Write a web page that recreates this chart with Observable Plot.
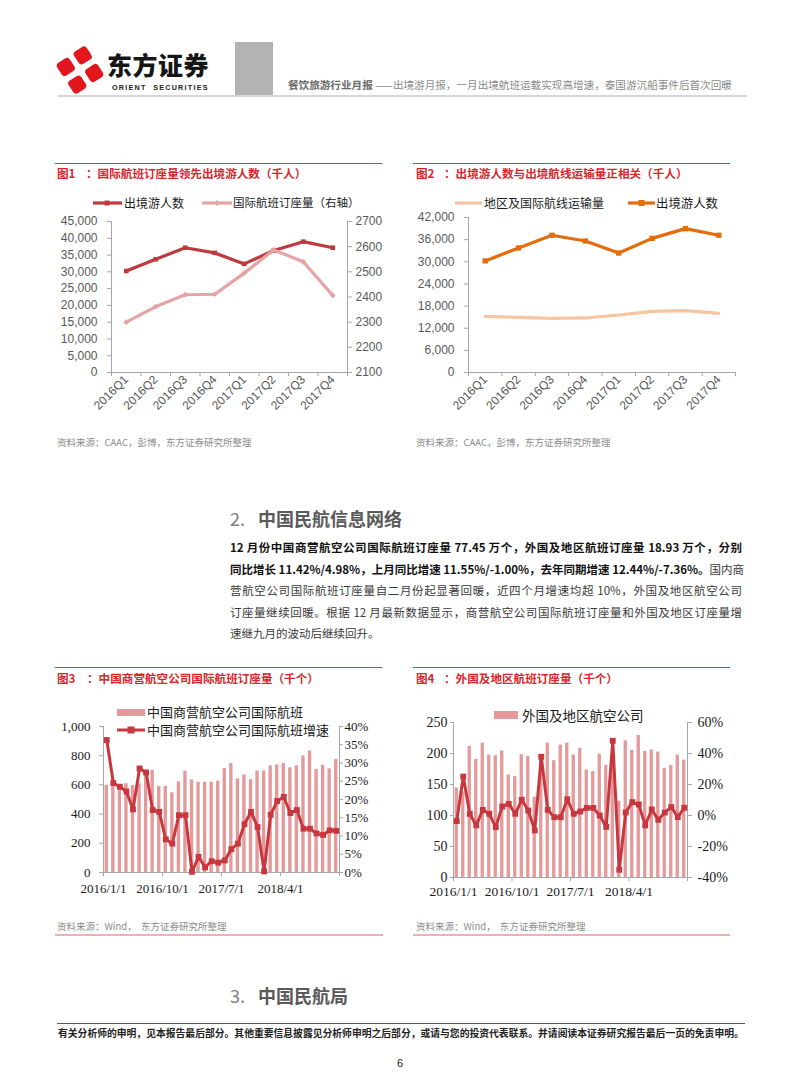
<!DOCTYPE html>
<html><head><meta charset="utf-8">
<script src="https://cdn.jsdelivr.net/npm/d3@7"></script>
<script src="https://cdn.jsdelivr.net/npm/@observablehq/plot@0.6"></script>
<style>
body{margin:0;background:#fff;width:802px;height:1087px;position:relative;overflow:hidden;font-family:"Noto Sans CJK SC","Noto Sans",sans-serif;}
.abs{position:absolute;white-space:nowrap;line-height:1;}
.title{font-size:11.6px;font-weight:700;color:#d9262c;}
.src{font-size:9.5px;color:#8c8c8c;}
.hl{position:absolute;}
.leg{font-size:12px;color:#1a1a1a;}
.leg2{font-size:13px;color:#1a1a1a;}
.para{position:absolute;left:230px;width:512px;font-size:11.5px;line-height:1;white-space:nowrap;color:#3a3a3a;text-align:justify;text-align-last:justify;}
.para b{color:#111;}
</style></head><body>
<script>
// ---------- DATA ----------
const quarters = ["2016Q1","2016Q2","2016Q3","2016Q4","2017Q1","2017Q2","2017Q3","2017Q4"];
const outboundTourists = [30240, 33750, 37190, 35640, 32370, 36350, 38990, 37190];
const intlSeats = [2300, 2362, 2409, 2411, 2495, 2587, 2540, 2406];
const routeTraffic = [15225, 14955, 14685, 14775, 15586, 16577, 16757, 16036];
const c1LeftTicks = [0,5000,10000,15000,20000,25000,30000,35000,40000,45000];
const c1RightTicks = [2100,2200,2300,2400,2500,2600,2700];
const c2Ticks = [0,6000,12000,18000,24000,30000,36000,42000];

const months = ["2016/1","2016/2","2016/3","2016/4","2016/5","2016/6","2016/7","2016/8","2016/9","2016/10","2016/11","2016/12",
 "2017/1","2017/2","2017/3","2017/4","2017/5","2017/6","2017/7","2017/8","2017/9","2017/10","2017/11","2017/12",
 "2018/1","2018/2","2018/3","2018/4","2018/5","2018/6","2018/7","2018/8","2018/9","2018/10","2018/11","2018/12"];
const domesticSeats = [598, 634, 600, 608, 596, 608, 700, 700, 590, 590, 546, 620,
 694, 634, 618, 618, 618, 626, 712, 747, 641, 668, 636, 695,
 695, 731, 737, 747, 717, 731, 798, 832, 705, 735, 710, 774.5];
const domesticGrowth = [36.3, 24.5, 23.5, 22.2, 17.3, 28.5, 27.4, 17.1, 16.6, 9.1, 7.9, 15.7,
 15.7, 0.2, 4.3, 1.4, 3.1, 2.7, 3.3, 6.4, 7.9, 13.2, 16.6, 12.44,
 0.3, 15.8, 19.6, 20.7, 16.3, 17.1, 12.0, 12.0, 10.7, 10.3, 11.55, 11.42];
const foreignSeats = [144.5, 138, 211.4, 190.6, 216.8, 197.5, 196.5, 204, 165.4, 162.7, 198, 195.4,
 129.5, 190, 216.8, 188.4, 213.6, 216.8, 197.5, 208.2, 173.4, 170.8, 199.1, 181,
 191.7, 123, 220.5, 205, 229, 203.4, 205.6, 202.3, 176.1, 180.4, 197.5, 189.3];
const foreignGrowth = [-3.6, 25.1, 1.1, -6.4, 3.6, 1.1, -7.5, 5.8, 7.5, 1.1, 10.1, 3.2,
 -9.6, 37.9, 3.6, -1.1, -1.1, 10.5, 1.1, 2.6, 4.9, 4.9, 0.0, -7.36,
 48.2, -35.0, 1.9, 8.6, 7.1, -6.4, 3.9, -2.8, 1.9, 5.4, -1.0, 4.98];
const monthTickIdx = [0, 9, 18, 27, 36];
const monthTickLabels = ["2016/1/1","2016/10/1","2017/7/1","2018/4/1",""];
const c3LeftTicks = [0,200,400,600,800,1000];
const c3RightTicks = [0,5,10,15,20,25,30,35,40];
const c4LeftTicks = [0,50,100,150,200,250];
const c4RightTicks = [-40,-20,0,20,40,60];
</script>

<!-- header -->
<svg class="hl" style="left:55px;top:45px" width="50" height="50" viewBox="0 0 50 50">
 <g transform="translate(25,25) rotate(12)" fill="#e3161d">
  <rect x="-8" y="-22" width="15" height="15" rx="3.5" transform="rotate(45 0 -14.5)"/>
  <rect x="7" y="-7.5" width="15" height="15" rx="3.5" transform="rotate(45 14.5 0)"/>
  <rect x="-7" y="7" width="15" height="15" rx="3.5" transform="rotate(45 0 14.5)"/>
  <rect x="-22" y="-7.5" width="15" height="15" rx="3.5" transform="rotate(45 -14.5 0)"/>
 </g>
</svg>
<div class="abs" style="left:107px;top:52px;font-size:25px;font-weight:900;color:#161616;letter-spacing:0.5px">东方证券</div>
<div class="abs" style="left:112px;top:84px;font-family:'Liberation Sans',Arial,sans-serif;font-size:7.2px;font-weight:700;color:#222;letter-spacing:1.25px">ORIENT&nbsp;&nbsp;SECURITIES</div>
<div class="hl" style="left:235px;top:42px;width:38px;height:53px;background:#b3b3b3"></div>
<div class="hl" style="left:58px;top:95px;width:689px;height:2px;background:#d6d6d6"></div>
<div class="abs" style="left:288px;top:80px;font-size:10.6px;color:#8a8a8a"><span style="color:#6a6a6a;font-weight:700">餐饮旅游行业月报</span> ——出境游月报，一月出境航班运载实现高增速，泰国游沉船事件后首次回暖</div>

<!-- chart titles -->
<div class="hl" style="left:55px;top:163px;width:327px;height:1px;background:#d9383f"></div>
<div class="hl" style="left:413px;top:163px;width:317px;height:1px;background:#d9383f"></div>
<div class="abs title" style="left:57px;top:168px"><span style="display:inline-block;width:29px">图1</span>：国际航班订座量领先出境游人数（千人）</div>
<div class="abs title" style="left:416px;top:168px"><span style="display:inline-block;width:28px">图2</span>：出境游人数与出境航线运输量正相关（千人）</div>

<!-- chart 1 legend -->
<svg class="hl" style="left:92px;top:197px" width="32" height="12"><line x1="1" y1="6" x2="30" y2="6" stroke="#c0393c" stroke-width="3.2"/><rect x="12.5" y="3.5" width="5" height="5" fill="#c0393c"/></svg>
<div class="abs leg" style="left:124px;top:197px">出境游人数</div>
<svg class="hl" style="left:201px;top:197px" width="32" height="12"><line x1="1" y1="6" x2="31" y2="6" stroke="#e6a3a3" stroke-width="3.2"/><path d="M16 3 L19 6 L16 9 L13 6Z" fill="#e6a3a3"/></svg>
<div class="abs leg" style="left:233px;top:197px;font-size:11.5px">国际航班订座量（右轴）</div>

<!-- chart 2 legend -->
<svg class="hl" style="left:454px;top:197px" width="30" height="12"><line x1="1" y1="6" x2="28" y2="6" stroke="#f7c6a0" stroke-width="3.2"/></svg>
<div class="abs leg" style="left:484px;top:197px">地区及国际航线运输量</div>
<svg class="hl" style="left:627px;top:197px" width="30" height="12"><line x1="1" y1="6" x2="28" y2="6" stroke="#e46c0a" stroke-width="3.2"/><rect x="11.5" y="3" width="6" height="6" fill="#e46c0a"/></svg>
<div class="abs leg" style="left:656px;top:197px;font-size:12.4px">出境游人数</div>

<div class="abs src" style="left:57px;top:438px">资料来源：CAAC，彭博，东方证券研究所整理</div>
<div class="abs src" style="left:416px;top:438px">资料来源：CAAC，彭博，东方证券研究所整理</div>

<!-- section 2 -->
<div class="abs" style="left:230px;top:509px;font-size:18px;color:#5a5a5a"><span style="display:inline-block;width:28px;color:#808080">2.</span><b>中国民航信息网络</b></div>
<div class="para" style="top:542px"><b>12 月份中国商营航空公司国际航班订座量 77.45 万个，外国及地区航班订座量 18.93 万个，分别</b></div>
<div class="para" style="top:564px"><b>同比增长 11.42%/4.98%，上月同比增速 11.55%/-1.00%，去年同期增速 12.44%/-7.36%。</b>国内商</div>
<div class="para" style="top:585px">营航空公司国际航班订座量自二月份起显著回暖，近四个月增速均超 10%，外国及地区航空公司</div>
<div class="para" style="top:607px">订座量继续回暖。根据 12 月最新数据显示，商营航空公司国际航班订座量和外国及地区订座量增</div>
<div class="para" style="top:628px;text-align:left;text-align-last:left">速继九月的波动后继续回升。</div>

<!-- chart 3/4 titles -->
<div class="hl" style="left:55px;top:667px;width:327px;height:1px;background:#d9383f"></div>
<div class="hl" style="left:413px;top:667px;width:317px;height:1px;background:#d9383f"></div>
<div class="abs title" style="left:57px;top:673px"><span style="display:inline-block;width:30px">图3</span>：中国商营航空公司国际航班订座量（千个）</div>
<div class="abs title" style="left:416px;top:673px"><span style="display:inline-block;width:28px">图4</span>：外国及地区航班订座量（千个）</div>

<div class="abs src" style="left:57px;top:922px">资料来源：Wind，&nbsp;&nbsp;东方证券研究所整理</div>
<div class="abs src" style="left:416px;top:922px">资料来源：Wind，&nbsp;&nbsp;东方证券研究所整理</div>
<div class="hl" style="left:55px;top:934px;width:328px;height:1.5px;background:#e9b3b3"></div>
<div class="hl" style="left:413px;top:934px;width:317px;height:1.5px;background:#e9b3b3"></div>

<!-- section 3 -->
<div class="abs" style="left:230px;top:986px;font-size:18px;color:#5a5a5a"><span style="display:inline-block;width:28px;color:#808080">3.</span><b>中国民航局</b></div>

<!-- footer -->
<div class="hl" style="left:57px;top:1023px;width:688px;height:1px;background:#555"></div>
<div class="abs" style="left:58px;top:1029px;font-size:9.8px;font-weight:700;color:#222">有关分析师的申明，见本报告最后部分。其他重要信息披露见分析师申明之后部分，或请与您的投资代表联系。并请阅读本证券研究报告最后一页的免责申明。</div>
<div class="abs" style="left:397px;top:1058px;font-size:11px;color:#222;font-family:'Liberation Sans',Arial,sans-serif">6</div>

<script>
function place(svg, left, top) {
  svg.style.position = "absolute";
  svg.style.left = left + "px";
  svg.style.top = top + "px";
  svg.style.maxWidth = "none";
  document.body.appendChild(svg);
}
const axisGrey = "#a6a6a6";

// ---------- Chart 1 ----------
const c1 = quarters.map((q, i) => ({i, q, out: outboundTourists[i], seat: intlSeats[i]}));
const c1r = d3.scaleLinear([2100, 2700], [0, 45000]);
const sansStyle = {fontFamily: "'Liberation Sans', Arial, sans-serif", fontSize: "12px", background: "transparent", color: "#595959"};
place(Plot.plot({
  width: 345, height: 230, marginLeft: 61, marginRight: 48, marginTop: 11, marginBottom: 68,
  x: {domain: [-0.5, 7.5], axis: null}, y: {domain: [0, 45000], axis: null},
  style: sansStyle,
  marks: [
    Plot.ruleX([-0.5, 7.5], {stroke: axisGrey}),
    Plot.ruleY([0], {stroke: axisGrey}),
    Plot.axisY({ticks: c1LeftTicks, tickFormat: d3.format(","), tickSize: 4, tickPadding: 10, stroke: axisGrey, fill: "#595959", label: null}),
    Plot.axisY({anchor: "right", ticks: c1RightTicks.map(c1r), tickFormat: d => String(Math.round(c1r.invert(d))), tickSize: 4, tickPadding: 4, stroke: axisGrey, fill: "#595959", label: null}),
    Plot.axisX({ticks: d3.range(9).map(k => k - 0.5), tickFormat: () => "", tickSize: 4, stroke: axisGrey, label: null}),
    Plot.axisX({ticks: d3.range(8), tickFormat: k => quarters[k], tickRotate: -45, tickSize: 0, tickPadding: 5, fill: "#595959", label: null}),
    Plot.line(c1, {x: "i", y: "out", stroke: "#c0393c", strokeWidth: 3.2}),
    Plot.dot(c1, {x: "i", y: "out", symbol: "square", r: 2.6, fill: "#c0393c"}),
    Plot.line(c1, {x: "i", y: d => c1r(d.seat), stroke: "#e6a3a3", strokeWidth: 3.2}),
    Plot.dot(c1, {x: "i", y: d => c1r(d.seat), symbol: "diamond2", r: 2.6, fill: "#e6a3a3", stroke: "none"})
  ]
}), 50, 210);

// ---------- Chart 2 ----------
const c2 = quarters.map((q, i) => ({i, q, out: outboundTourists[i], route: routeTraffic[i]}));
place(Plot.plot({
  width: 340, height: 235, marginLeft: 58, marginRight: 15, marginTop: 12, marginBottom: 68,
  x: {domain: [-0.5, 7.5], axis: null}, y: {domain: [0, 42000], axis: null},
  style: sansStyle,
  marks: [
    Plot.ruleX([-0.5], {stroke: axisGrey}),
    Plot.ruleY([0], {stroke: axisGrey}),
    Plot.axisY({ticks: c2Ticks, tickFormat: d3.format(","), tickSize: 4, tickPadding: 10, stroke: axisGrey, fill: "#595959", label: null}),
    Plot.axisX({ticks: d3.range(9).map(k => k - 0.5), tickFormat: () => "", tickSize: 4, stroke: axisGrey, label: null}),
    Plot.axisX({ticks: d3.range(8), tickFormat: k => quarters[k], tickRotate: -45, tickSize: 0, tickPadding: 5, fill: "#595959", label: null}),
    Plot.line(c2, {x: "i", y: "route", stroke: "#f7c6a0", strokeWidth: 3.2}),
    Plot.line(c2, {x: "i", y: "out", stroke: "#e46c0a", strokeWidth: 3.2}),
    Plot.dot(c2, {x: "i", y: "out", symbol: "square", r: 3, fill: "#e46c0a"})
  ]
}), 410, 205);

// ---------- Chart 3 ----------
const serif = "'Liberation Serif', 'Times New Roman', serif";
const c3 = months.map((m, i) => ({i, m, v: domesticSeats[i], g: domesticGrowth[i]}));
const c3r = d3.scaleLinear([0, 40], [0, 1000]);
place(Plot.plot({
  width: 345, height: 190, marginLeft: 58, marginRight: 51, marginTop: 11, marginBottom: 33,
  x: {domain: [0, 36], axis: null}, y: {domain: [0, 1000], axis: null},
  style: {fontFamily: serif, fontSize: "13px", background: "transparent", color: "#1a1a1a"},
  marks: [
    Plot.rectY(c3, {x1: "i", x2: d => d.i + 1, y: "v", fill: "#e49a9a", insetLeft: 1.6, insetRight: 1.6}),
    Plot.ruleX([0, 36], {stroke: axisGrey}),
    Plot.ruleY([0], {stroke: axisGrey}),
    Plot.axisY({ticks: c3LeftTicks, tickFormat: d3.format(","), tickSize: 4, tickPadding: 9, stroke: axisGrey, fill: "#1a1a1a", label: null}),
    Plot.axisY({anchor: "right", ticks: c3RightTicks.map(c3r), tickFormat: d => Math.round(c3r.invert(d)) + "%", tickSize: 3, tickPadding: 2, stroke: axisGrey, fill: "#1a1a1a", label: null}),
    Plot.axisX({ticks: monthTickIdx, tickFormat: (k, j) => monthTickLabels[j], tickSize: 4, tickPadding: 7, stroke: axisGrey, fill: "#1a1a1a", label: null}),
    Plot.line(c3, {x: d => d.i + 0.5, y: d => c3r(d.g), stroke: "#c8373d", strokeWidth: 3}),
    Plot.dot(c3, {x: d => d.i + 0.5, y: d => c3r(d.g), symbol: "square", r: 3.3, fill: "#c8373d"})
  ]
}), 45, 715);
</script>
<!-- chart 3 legend -->
<div class="hl" style="left:117px;top:709px;width:28px;height:7px;background:#e49a9a"></div>
<div class="abs leg2" style="left:147px;top:705px">中国商营航空公司国际航班</div>
<svg class="hl" style="left:116px;top:724px" width="30" height="12"><line x1="1" y1="6" x2="29" y2="6" stroke="#c8373d" stroke-width="3"/><rect x="11.5" y="2.5" width="7" height="7" fill="#c8373d"/></svg>
<div class="abs leg2" style="left:147px;top:723px">中国商营航空公司国际航班增速</div>

<script>
// ---------- Chart 4 ----------
const c4 = months.map((m, i) => ({i, m, v: foreignSeats[i], g: foreignGrowth[i]}));
const c4r = d3.scaleLinear([-40, 60], [0, 250]);
place(Plot.plot({
  width: 345, height: 193, marginLeft: 53, marginRight: 58, marginTop: 10, marginBottom: 28,
  x: {domain: [0, 36], axis: null}, y: {domain: [0, 250], axis: null},
  style: {fontFamily: serif, fontSize: "14px", background: "transparent", color: "#1a1a1a"},
  marks: [
    Plot.rectY(c4, {x1: "i", x2: d => d.i + 1, y: "v", fill: "#e49a9a", insetLeft: 1.6, insetRight: 1.6}),
    Plot.ruleX([0, 36], {stroke: axisGrey}),
    Plot.ruleY([0], {stroke: axisGrey}),
    Plot.axisY({ticks: c4LeftTicks, tickSize: 3, tickPadding: 3, stroke: axisGrey, fill: "#1a1a1a", label: null}),
    Plot.axisY({anchor: "right", ticks: c4RightTicks.map(c4r), tickFormat: d => Math.round(c4r.invert(d)) + "%", tickSize: 4, tickPadding: 6, stroke: axisGrey, fill: "#1a1a1a", label: null}),
    Plot.axisX({ticks: monthTickIdx, tickFormat: (k, j) => monthTickLabels[j], tickSize: 4, tickPadding: 5, stroke: axisGrey, fill: "#1a1a1a", fontSize: 13.5, label: null}),
    Plot.line(c4, {x: d => d.i + 0.5, y: d => c4r(d.g), stroke: "#c8373d", strokeWidth: 3}),
    Plot.dot(c4, {x: d => d.i + 0.5, y: d => c4r(d.g), symbol: "square", r: 3.3, fill: "#c8373d"})
  ]
}), 400, 712);
</script>
<!-- chart 4 legend -->
<div class="hl" style="left:494px;top:711px;width:24px;height:8px;background:#e49a9a"></div>
<div class="abs leg2" style="left:522px;top:709px;font-size:13.5px">外国及地区航空公司</div>
</body></html>
